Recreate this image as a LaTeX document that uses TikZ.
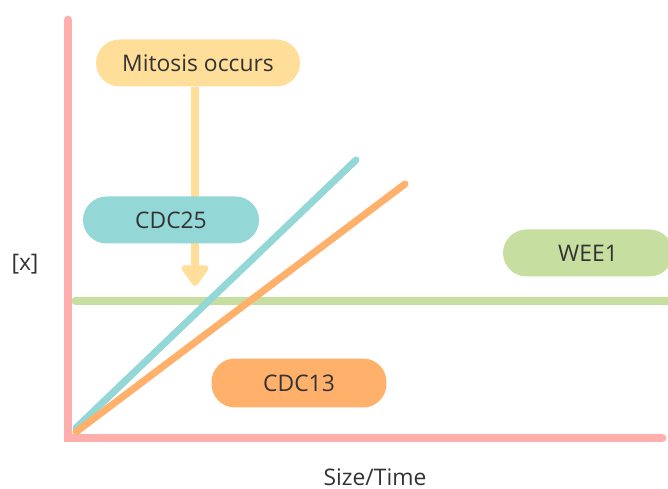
\documentclass[tikz,border=0pt]{standalone}
\usepackage{fontspec}
\setmainfont{Open Sans}
\usetikzlibrary{arrows.meta}
\definecolor{cAxis}  {HTML}{FFAEAE}
\definecolor{cMit}   {HTML}{FFDE99}
\definecolor{cCdcTf} {HTML}{94D7D7}
\definecolor{cCdcTt} {HTML}{FFB06B}
\definecolor{cWee}   {HTML}{C6DEA0}
\definecolor{cText}  {HTML}{333333}

\begin{document}
\begin{tikzpicture}[
    x=0.02cm,y=0.02cm,
    pill/.style={rounded corners=0.47cm,minimum height=0.94cm,inner sep=0pt,
                 text=cText,font=\fontsize{13}{15}\selectfont},
    axis/.style={line width=5pt,cAxis,line cap=round},
    trend/.style={line width=4pt,line cap=round},
    lbl/.style={text=cText,font=\fontsize{13}{15}\selectfont},
  ]
  \useasboundingbox (0,0) rectangle (668,489);

  % ---------- AXES ----------
  \coordinate (o)    at (68,51);
  \coordinate (ytop) at (68,469);
  \coordinate (xend) at (662,51);
  \draw[axis] (ytop) -- (o) -- (xend);
  \node[lbl] (ylab) at (25,225) {[x]};
  \node[lbl] (xlab) at (375,12) {Size/Time};

  % ---------- THRESHOLD ----------
  \coordinate (wl) at (75,188);
  \coordinate (wr) at (670,188);
  \draw[line width=4pt,cWee,line cap=round] (wl) -- (wr);

  % ---------- RISING LEVELS ----------
  \coordinate (s25) at (76,61);
  \coordinate (e25) at (356,329);
  \coordinate (s13) at (76,57);
  \coordinate (e13) at (405,305);
  \draw[trend,cCdcTf] (s25) -- (e25);
  \draw[trend,cCdcTt] (s13) -- (e13);

  % ---------- TRIGGER ----------
  \node[pill,fill=cMit,minimum width=4.08cm] (mit) at (198,426) {Mitosis occurs};
  \coordinate (tip) at (195,203);
  \draw[line width=4pt,cMit,-{Triangle[width=0.62cm,length=0.46cm,round]}]
       (mit.south -| tip) -- (tip);

  % ---------- LABELS ----------
  \node[pill,fill=cCdcTf,minimum width=3.52cm] (cdc25) at (171,269) {CDC25};
  \node[pill,fill=cWee,minimum width=3.4cm]    (wee1)  at (588,236) {WEE1};
  \node[pill,fill=cCdcTt,minimum width=3.5cm,minimum height=0.98cm] (cdc13) at (299,106) {CDC13};

\end{tikzpicture}
\end{document}
